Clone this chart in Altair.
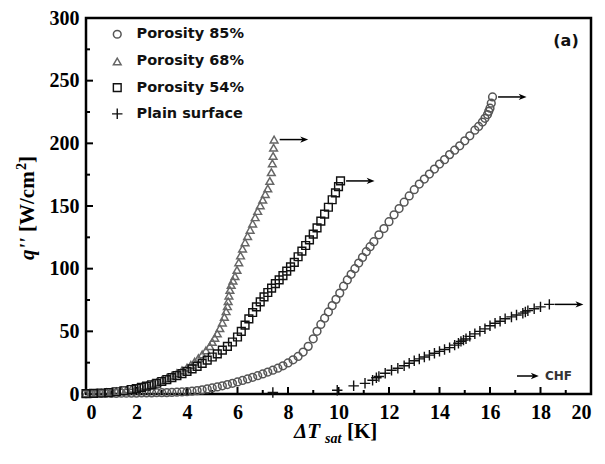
import altair as alt
import pandas as pd

# ---- data ----
series_names = ["Porosity 85%", "Porosity 68%", "Porosity 54%", "Plain surface"]

p85_x = [0.0,0.2,0.4,0.6,0.8,1.0,1.2,1.4,1.6,1.8,2.0,2.2,2.4,2.6,2.8,3.0,3.2,3.4,3.6,3.8,
         4.0,4.2,4.4,4.6,4.8,5.0,5.2,5.4,5.6,5.8,6.0,6.2,6.4,6.6,6.8,7.0,7.2,7.4,7.6,7.8,
         8.0,8.2,8.4,8.6,8.8,9.0,9.15,9.3,9.45,9.6,9.75,9.9,10.05,10.2,10.35,10.5,10.65,10.8,10.95,11.1,
         11.25,11.4,11.6,11.8,12.0,12.2,12.4,12.6,12.8,13.0,13.2,13.4,13.6,13.8,14.0,14.2,14.4,14.6,14.8,15.0,
         15.2,15.4,15.55,15.7,15.8,15.9,15.95,16.0,16.05,16.1]
p85_q = [0.3,0.3,0.4,0.4,0.5,0.5,0.5,0.6,0.6,0.7,0.7,0.8,0.8,0.9,1.0,1.0,1.1,1.2,1.4,1.6,
         1.8,2.2,2.7,3.3,4.0,4.8,5.6,6.5,7.5,8.5,9.6,10.8,12.0,13.3,14.6,16.0,17.5,19.0,20.6,22.5,
         24.8,27.3,30.0,33.5,38.0,44.0,50.0,55.5,60.5,65.5,70.5,75.5,80.5,86.0,91.0,95.5,100.0,104.5,109.0,113.5,
         117.5,121.5,127.0,132.0,137.5,143.0,148.0,153.0,158.0,163.0,167.5,171.5,175.5,179.5,183.5,187.0,191.0,194.5,198.0,202.0,
         206.0,210.5,213.5,217.0,220.0,223.0,225.5,228.0,232.0,237.0]

p68_x = [0.0,0.2,0.4,0.6,0.8,1.0,1.2,1.4,1.6,1.8,2.0,2.2,2.4,2.6,2.8,3.0,3.2,3.4,3.6,3.8,
         4.0,4.15,4.3,4.45,4.6,4.75,4.9,5.0,5.1,5.2,5.3,5.4,5.48,5.55,5.6,5.63,5.66,5.7,5.75,5.82,
         5.9,5.98,6.05,6.12,6.2,6.3,6.4,6.5,6.6,6.7,6.8,6.9,7.0,7.1,7.2,7.28,7.34,7.38,7.41,7.43,7.45]
p68_q = [0.5,0.6,0.8,1.0,1.3,1.6,2.0,2.6,3.3,4.0,4.8,5.7,6.8,8.0,9.4,11.0,12.7,14.6,16.6,18.8,
         21.0,23.2,25.8,28.6,31.6,34.8,38.2,41.5,44.8,48.3,52.5,57.0,61.5,66.0,70.0,74.0,78.5,83.0,87.0,90.5,
         94.0,99.0,105.0,110.5,116.0,121.0,126.0,131.0,136.0,141.0,146.0,150.5,155.0,159.5,164.0,170.0,177.0,184.0,190.0,196.5,203.0]

p54_x = [0.0,0.3,0.6,0.9,1.2,1.5,1.8,2.0,2.2,2.4,2.6,2.8,3.0,3.2,3.4,3.6,3.8,4.0,4.2,4.4,
         4.6,4.8,5.0,5.2,5.4,5.6,5.8,6.0,6.15,6.3,6.45,6.6,6.75,6.9,7.05,7.2,7.35,7.5,7.65,7.8,
         7.95,8.1,8.25,8.4,8.55,8.7,8.85,9.0,9.15,9.3,9.45,9.6,9.75,9.88,10.0,10.08]
p54_q = [0.3,0.5,0.8,1.2,1.8,2.6,3.6,4.4,5.3,6.3,7.4,8.6,10.0,11.4,13.0,14.6,16.3,18.0,20.0,22.0,
         24.5,27.0,29.5,32.0,35.0,38.0,41.5,45.5,50.0,55.0,60.0,65.0,69.5,73.5,77.5,81.0,84.5,88.0,91.0,94.5,
         98.0,101.5,105.0,109.5,114.0,118.5,123.0,127.5,132.5,138.0,143.5,149.0,155.0,160.5,165.5,170.0]

plain_x = [7.4,9.95,10.6,11.05,11.35,11.5,11.6,11.85,12.1,12.35,12.6,12.8,13.0,13.2,13.4,13.6,13.8,14.0,14.2,14.4,
           14.6,14.75,14.85,14.95,15.05,15.2,15.4,15.6,15.8,16.0,16.2,16.4,16.6,16.85,17.05,17.3,17.4,17.5,17.75,18.0,18.35]
plain_q = [1.2,3.0,6.5,8.5,11.0,13.0,14.0,16.5,19.0,20.5,22.5,24.5,26.5,28.0,29.5,31.0,32.5,34.0,35.5,37.0,
           39.0,40.5,42.0,43.0,44.0,46.0,48.0,50.0,52.0,54.5,56.5,58.0,60.0,61.5,63.0,64.5,65.5,66.5,68.0,69.5,71.5]

x_major = [0, 2, 4, 6, 8, 10, 12, 14, 16, 18, 20]
x_minor = [1, 3, 5, 7, 9, 11, 13, 15, 17, 19]
y_major = [0, 50, 100, 150, 200, 250, 300]
y_minor = [25, 75, 125, 175, 225, 275]

# ---- tables ----
xs = [p85_x, p68_x, p54_x, plain_x]
qs = [p85_q, p68_q, p54_q, plain_q]
rows = []
for name, sx, sq in zip(series_names, xs, qs):
    for a, b in zip(sx, sq):
        rows.append({"series": name, "x": a, "q": b})
df = pd.DataFrame(rows)

arrows = pd.DataFrame({
    "series": series_names,
    "x0": [sx[-1] + 0.22 for sx in xs],
    "x1": [sx[-1] + 1.2 for sx in xs],
    "q": [sq[-1] for sq in qs],
})

W, H = 505, 376
xscale = alt.Scale(domain=[0, 20], nice=False, zero=False)
yscale = alt.Scale(domain=[0, 300], nice=False, zero=False)

plus_path = "M-1.35,0L1.35,0M0,-1.35L0,1.35"
shape_scale = alt.Scale(domain=series_names,
                        range=["circle", "triangle-up", "square", plus_path])
color_scale = alt.Scale(domain=series_names,
                        range=["#555555", "#666666", "#111111", "#111111"])
size_scale = alt.Scale(domain=series_names, range=[60, 60, 58, 110])
sw_scale = alt.Scale(domain=series_names, range=[1.5, 1.4, 1.6, 2.4])

legend = alt.Legend(orient="none", legendX=24, legendY=9, title=None,
                    labelFont="DejaVu Sans", labelFontWeight="bold",
                    labelFontSize=14.5, labelColor="#111111",
                    symbolSize=38, symbolStrokeWidth=1.3,
                    labelOffset=12, rowPadding=11.2, padding=0)

points = alt.Chart(df).mark_point(filled=False, opacity=1).encode(
    x=alt.X("x:Q", scale=xscale,
            axis=alt.Axis(values=x_major, ticks=False, domain=False, grid=False,
                          labelFont="Liberation Serif", labelFontWeight="bold",
                          labelFontSize=20, labelColor="black", labelPadding=8,
                          format="d", title=None)),
    y=alt.Y("q:Q", scale=yscale,
            axis=alt.Axis(values=y_major, ticks=False, domain=False, grid=False,
                          labelFont="Liberation Serif", labelFontWeight="bold",
                          labelFontSize=20, labelColor="black", labelPadding=7,
                          format="d", title=None)),
    shape=alt.Shape("series:N", scale=shape_scale, legend=legend),
    color=alt.Color("series:N", scale=color_scale, legend=legend),
    size=alt.Size("series:N", scale=size_scale, legend=None),
    strokeWidth=alt.StrokeWidth("series:N", scale=sw_scale, legend=None),
)

arrow_lines = alt.Chart(arrows).mark_rule(color="black", strokeWidth=1.5).encode(
    x=alt.X("x0:Q", scale=xscale), x2="x1:Q", y=alt.Y("q:Q", scale=yscale))
head_path = "M-1,-0.75L0.9,0L-1,0.75L-0.45,0Z"
arrow_heads = alt.Chart(arrows).mark_point(shape=head_path, filled=True, color="black",
                                           size=70, opacity=1).encode(
    x=alt.X("x1:Q", scale=xscale), y=alt.Y("q:Q", scale=yscale))

# inward ticks
def xticks(vals, length):
    return alt.Chart(pd.DataFrame({"v": vals})).mark_rule(color="black", strokeWidth=2).encode(
        x=alt.X("v:Q", scale=xscale), y=alt.value(H), y2=alt.value(H - length))

def yticks(vals, length):
    return alt.Chart(pd.DataFrame({"v": vals})).mark_rule(color="black", strokeWidth=2).encode(
        y=alt.Y("v:Q", scale=yscale), x=alt.value(0), x2=alt.value(length))

ticks = xticks(x_major, 7) + xticks(x_minor, 4) + yticks(y_major, 7) + yticks(y_minor, 4)

# titles and annotations
serif = "Liberation Serif"

def txt(s, size, x, y, italic=False, angle=0, align="left", baseline="alphabetic",
        font=serif, color="black"):
    kw = dict(font=font, fontSize=size, fontWeight="bold", align=align,
              baseline=baseline, color=color)
    if italic:
        kw["fontStyle"] = "italic"
    if angle:
        kw["angle"] = angle
    return alt.Chart(pd.DataFrame({"t": [s]})).mark_text(**kw).encode(
        text="t:N", x=alt.value(x), y=alt.value(y))

tx1 = txt("ΔT", 21, 208, 420, italic=True)
tx2 = txt("sat", 14, 239, 425, italic=True)
tx3 = txt("[K]", 21, 261, 420)

ty1 = txt("q''", 21, -58, 242, italic=True, angle=270, baseline="middle")
ty2a = txt("[W/cm", 21, -58, 214, angle=270, baseline="middle")
ty2b = txt("2", 14, -64, 152, angle=270, baseline="middle")
ty2c = txt("]", 21, -58, 145, angle=270, baseline="middle")

label_a = txt("(a)", 16, 480, 23, align="center", baseline="middle",
              font="DejaVu Sans", color="#111111")

chf_line = alt.Chart(pd.DataFrame({"t": ["CHF"]})).mark_rule(color="black", strokeWidth=1.5).encode(
    x=alt.value(431), x2=alt.value(449), y=alt.value(358))
chf_head = alt.Chart(pd.DataFrame({"t": ["CHF"]})).mark_point(
    shape=head_path, filled=True, color="black", size=70, opacity=1).encode(
    x=alt.value(449), y=alt.value(358))
chf_text = txt("CHF", 12, 459, 358, baseline="middle", font="DejaVu Sans", color="#333333")

chart = alt.layer(
    ticks, points, arrow_lines, arrow_heads,
    tx1, tx2, tx3, ty1, ty2a, ty2b, ty2c, label_a, chf_line, chf_head, chf_text
).properties(
    width=W, height=H,
    background="white",
    autosize=alt.AutoSizeParams(type="none"),
    padding={"left": 78, "top": 10, "right": 6, "bottom": 56},
).configure_view(
    stroke="black", strokeWidth=2.5
)

chart.save("out.html", embed_options={"renderer": "svg", "actions": False})
